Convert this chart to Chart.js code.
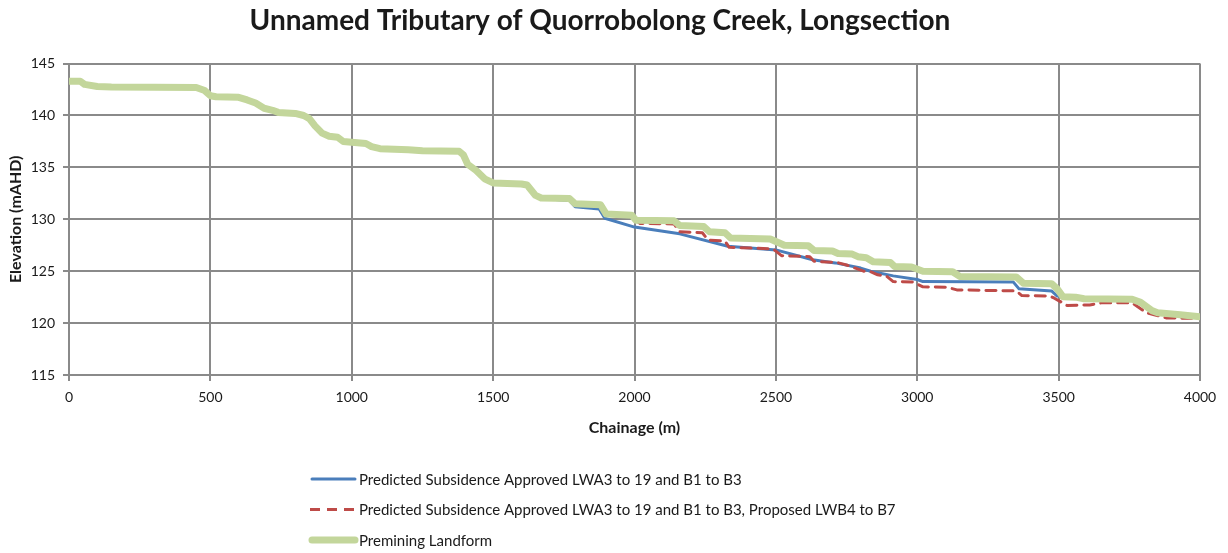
<!DOCTYPE html>
<html>
<head>
<meta charset="utf-8">
<script src="https://cdn.jsdelivr.net/npm/chart.js@4.4.0/dist/chart.umd.min.js"></script>
<style>
  html, body { margin: 0; padding: 0; background: #fff; }
  #wrap { width: 1228px; height: 553px; position: relative; }
</style>
</head>
<body>
<div id="wrap"><canvas id="longChart"></canvas></div>
<script>
// chainage (m) / elevation (mAHD)
const premX = [0, 40, 55, 100, 150, 450, 480, 500, 520, 600, 630, 660, 690, 720, 740, 800, 830, 850, 870, 895, 920, 950, 970, 1010, 1050, 1070, 1100, 1200, 1250, 1380, 1395, 1410, 1440, 1470, 1500, 1600, 1620, 1650, 1670, 1770, 1790, 1880, 1900, 1990, 2005, 2140, 2160, 2245, 2265, 2320, 2340, 2480, 2530, 2615, 2635, 2700, 2720, 2770, 2790, 2820, 2845, 2905, 2920, 2980, 3020, 3125, 3150, 3350, 3375, 3475, 3495, 3515, 3560, 3590, 3760, 3790, 3830, 3850, 3930, 4000];
const premY = [143.3, 143.3, 143.0, 142.8, 142.75, 142.7, 142.4, 141.9, 141.8, 141.75, 141.5, 141.2, 140.7, 140.5, 140.3, 140.2, 140.0, 139.7, 139.0, 138.3, 138.0, 137.9, 137.5, 137.4, 137.3, 137.0, 136.8, 136.7, 136.6, 136.55, 136.2, 135.3, 134.7, 133.9, 133.5, 133.4, 133.3, 132.3, 132.05, 132.0, 131.5, 131.4, 130.5, 130.4, 129.9, 129.85, 129.4, 129.3, 128.8, 128.7, 128.2, 128.1, 127.5, 127.45, 127.0, 126.95, 126.7, 126.65, 126.4, 126.3, 125.9, 125.85, 125.45, 125.4, 125.0, 124.95, 124.5, 124.45, 123.85, 123.8, 123.3, 122.55, 122.5, 122.35, 122.3, 122.0, 121.2, 121.0, 120.8, 120.6];

const apprX = [0, 40, 55, 100, 150, 450, 480, 500, 520, 600, 630, 660, 690, 720, 740, 800, 830, 850, 870, 895, 920, 950, 970, 1010, 1050, 1070, 1100, 1200, 1250, 1380, 1395, 1410, 1440, 1470, 1500, 1600, 1620, 1650, 1670, 1770, 1790, 1875, 1895, 2000, 2160, 2330, 2500, 2630, 2710, 2800, 2835, 2915, 3000, 3020, 3340, 3360, 3475, 3495, 3515, 3560, 3590, 3760, 3790, 3830, 3850, 3930, 4000];
const apprY = [143.3, 143.3, 143.0, 142.8, 142.75, 142.7, 142.4, 141.9, 141.8, 141.75, 141.5, 141.2, 140.7, 140.5, 140.3, 140.2, 140.0, 139.7, 139.0, 138.3, 138.0, 137.9, 137.5, 137.4, 137.3, 137.0, 136.8, 136.7, 136.6, 136.55, 136.2, 135.3, 134.7, 133.9, 133.5, 133.4, 133.2, 132.2, 132.0, 131.8, 131.2, 131.0, 130.1, 129.25, 128.6, 127.4, 127.05, 126.1, 125.8, 125.3, 125.0, 124.55, 124.2, 124.0, 123.95, 123.3, 123.1, 122.6, 122.55, 122.5, 122.35, 122.3, 122.0, 121.2, 121.0, 120.8, 120.6];

const propX = [0, 40, 55, 100, 150, 450, 480, 500, 520, 600, 630, 660, 690, 720, 740, 800, 830, 850, 870, 895, 920, 950, 970, 1010, 1050, 1070, 1100, 1200, 1250, 1380, 1395, 1410, 1440, 1470, 1500, 1600, 1620, 1650, 1670, 1770, 1790, 1880, 1900, 1990, 2005, 2020, 2140, 2160, 2240, 2260, 2320, 2335, 2490, 2520, 2620, 2635, 2715, 2750, 2810, 2835, 2860, 2890, 2915, 2985, 3020, 3105, 3140, 3350, 3370, 3470, 3485, 3530, 3610, 3650, 3760, 3810, 3880, 4000];
const propY = [143.3, 143.3, 143.0, 142.8, 142.75, 142.7, 142.4, 141.9, 141.8, 141.75, 141.5, 141.2, 140.7, 140.5, 140.3, 140.2, 140.0, 139.7, 139.0, 138.3, 138.0, 137.9, 137.5, 137.4, 137.3, 137.0, 136.8, 136.7, 136.6, 136.55, 136.2, 135.3, 134.7, 133.9, 133.5, 133.4, 133.3, 132.3, 132.05, 132.0, 131.5, 131.4, 130.5, 130.4, 129.9, 129.6, 129.55, 128.8, 128.7, 128.0, 127.9, 127.3, 127.15, 126.5, 126.4, 125.95, 125.85, 125.6, 125.0, 124.95, 124.65, 124.55, 124.0, 123.95, 123.5, 123.45, 123.2, 123.1, 122.65, 122.6, 122.4, 121.7, 121.75, 121.95, 121.95, 121.0, 120.5, 120.45];

const xTicks = [0, 500, 1000, 1500, 2000, 2500, 3000, 3500, 4000];
const yTicks = [115, 120, 125, 130, 135, 140, 145];

const seriesNames = [
  'Predicted Subsidence Approved LWA3 to 19 and B1 to B3',
  'Predicted Subsidence Approved LWA3 to 19 and B1 to B3, Proposed LWB4 to B7',
  'Premining Landform'
];

function pairs(xs, ys) {
  return xs.map((x, i) => ({ x: x, y: ys[i] }));
}

const gridGrey = '#8a8a8a';
const textCol = '#1a1a1a';

// legend drawn under the plot, one entry per row, like the Excel original
const stackedLegend = {
  id: 'stackedLegend',
  afterDraw(chart) {
    const ctx = chart.ctx;
    const top = chart.chartArea.bottom + 104;
    ctx.save();
    ctx.font = '15px Lato';
    ctx.textBaseline = 'middle';
    chart.data.datasets.forEach((ds, i) => {
      const y = top + i * 30.5;
      ctx.beginPath();
      ctx.strokeStyle = ds.borderColor;
      ctx.lineWidth = ds.borderWidth;
      ctx.lineCap = ds.borderDash ? 'butt' : 'round';
      ctx.setLineDash(ds.borderDash || []);
      ctx.moveTo(ds.borderDash ? 310 : 312, y);
      ctx.lineTo(355, y);
      ctx.stroke();
      ctx.setLineDash([]);
      ctx.fillStyle = textCol;
      ctx.fillText(ds.label, 359, y + 1);
    });
    ctx.restore();
  }
};

const plainNum = (v) => String(v);

const chart = new Chart(document.getElementById('longChart'), {
  type: 'line',
  data: {
    datasets: [
      {
        label: seriesNames[0],
        data: pairs(apprX, apprY),
        borderColor: '#4a7ebb',
        borderWidth: 3,
        order: 3
      },
      {
        label: seriesNames[1],
        data: pairs(propX, propY),
        borderColor: '#be4b48',
        borderWidth: 3,
        borderDash: [10, 7],
        order: 2
      },
      {
        label: seriesNames[2],
        data: pairs(premX, premY),
        borderColor: '#c3d69b',
        borderWidth: 7,
        order: 1
      }
    ]
  },
  options: {
    responsive: true,
    maintainAspectRatio: false,
    animation: false,
    elements: {
      point: { radius: 0 },
      line: { tension: 0, borderCapStyle: 'round', borderJoinStyle: 'round', fill: false }
    },
    layout: {
      padding: { left: 0, right: 28, top: 0, bottom: 116 }
    },
    plugins: {
      legend: { display: false },
      tooltip: { enabled: false },
      title: {
        display: true,
        text: 'Unnamed Tributary of Quorrobolong Creek, Longsection',
        color: textCol,
        font: { family: 'Lato', size: 28, weight: 'bold' },
        padding: { top: 4, bottom: 26 }
      }
    },
    scales: {
      x: {
        type: 'linear',
        min: 0,
        max: 4000,
        afterBuildTicks: (scale) => { scale.ticks = xTicks.map(v => ({ value: v })); },
        afterFit: (scale) => { scale.height = 62; },
        grid: { color: gridGrey, lineWidth: 2, tickLength: 6 },
        border: { color: gridGrey, width: 2 },
        ticks: { color: textCol, font: { family: 'Lato', size: 14 }, padding: 8, maxRotation: 0, callback: plainNum },
        title: {
          display: true,
          text: 'Chainage (m)',
          color: textCol,
          font: { family: 'Lato', size: 16, weight: 'bold' },
          padding: { top: 4, bottom: 0 }
        }
      },
      y: {
        min: 115,
        max: 145,
        afterBuildTicks: (scale) => { scale.ticks = yTicks.map(v => ({ value: v })); },
        afterFit: (scale) => { scale.width = 69; },
        grid: { color: gridGrey, lineWidth: 2, tickLength: 6 },
        border: { color: gridGrey, width: 2 },
        ticks: { color: textCol, font: { family: 'Lato', size: 14 }, padding: 8, callback: plainNum },
        title: {
          display: true,
          text: 'Elevation (mAHD)',
          color: textCol,
          font: { family: 'Lato', size: 16, weight: 'bold' },
          padding: { top: 6, bottom: 0 }
        }
      }
    }
  },
  plugins: [stackedLegend]
});
</script>
</body>
</html>
